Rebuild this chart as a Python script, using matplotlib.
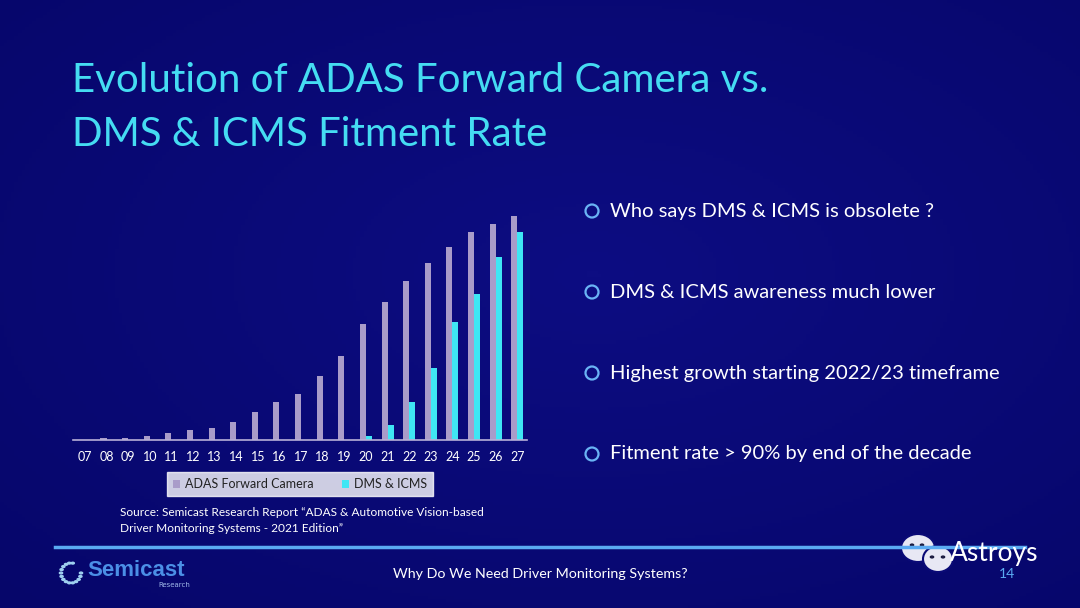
import matplotlib
matplotlib.use("Agg")
import matplotlib.pyplot as plt
import numpy as np
from matplotlib.patches import Circle, Ellipse
from matplotlib.colors import LinearSegmentedColormap

years = ["07", "08", "09", "10", "11", "12", "13", "14", "15", "16", "17",
         "18", "19", "20", "21", "22", "23", "24", "25", "26", "27"]
adas = [0.0, 0.7, 0.7, 1.9, 3.1, 4.3, 5.4, 7.9, 12.4, 17.0, 20.4,
        28.5, 37.7, 51.6, 61.8, 71.1, 79.1, 86.0, 93.0, 96.4, 100.0]
dms = [0, 0, 0, 0, 0, 0, 0, 0, 0, 0, 0,
       0, 0, 1.9, 6.6, 17.0, 32.0, 52.6, 65.4, 81.5, 93.0]
series_names = ["ADAS Forward Camera", "DMS & ICMS"]
bullets = ["Who says DMS & ICMS is obsolete ?",
           "DMS & ICMS awareness much lower",
           "Highest growth starting 2022/23 timeframe",
           "Fitment rate > 90% by end of the decade"]

BG = "#0a0a76"
ADAS_C = "#a99cc9"
DMS_C = "#3fe6f4"
TITLE_C = "#45dcf2"
FONT = "Lato"

W, H = 1080, 608
fig = plt.figure(figsize=(W / 100, H / 100), dpi=100)
fig.patch.set_facecolor(BG)

# background gradient
bg = fig.add_axes([0, 0, 1, 1], zorder=-10)
yy, xx = np.mgrid[0:1:200j, 0:1:300j]
grad = 1 - 0.5 * np.sqrt((xx - 0.55) ** 2 + (yy - 0.45) ** 2)
cmap = LinearSegmentedColormap.from_list("bgc", ["#06066a", "#0d0d82"])
bg.imshow(grad, cmap=cmap, aspect="auto", extent=[0, 1, 0, 1])
bg.set_axis_off()

def fx(px):
    return px / W

def fy(py):
    return 1 - py / H

# title
fig.text(fx(72), fy(80), "Evolution of ADAS Forward Camera vs.", color=TITLE_C,
         fontsize=29, family=FONT, va="center", ha="left")
fig.text(fx(72), fy(134), "DMS & ICMS Fitment Rate", color=TITLE_C,
         fontsize=29, family=FONT, va="center", ha="left")

# chart
ax = fig.add_axes([fx(73), fy(440), fx(527) - fx(73), (440 - 216) / H])
ax.set_facecolor("none")
x = np.arange(len(years))
bw = 0.28
b1 = ax.bar(x - bw / 2, adas, width=bw, color=ADAS_C, label=series_names[0], zorder=2)
b2 = ax.bar(x + bw / 2, dms, width=bw, color=DMS_C, label=series_names[1], zorder=2)
ax.set_xlim(-0.55, 20.45)
ax.set_ylim(0, 100)
ax.set_xticks(x)
ax.set_xticklabels(years, color="white", fontsize=9, family=FONT)
ax.tick_params(axis="x", length=0, pad=8)
ax.set_yticks([])
for s in ["top", "right", "left"]:
    ax.spines[s].set_visible(False)
ax.spines["bottom"].set_color("#b8b0d8")
ax.spines["bottom"].set_linewidth(1.2)

leg = fig.legend(handles=[b1, b2], labels=series_names, loc="center",
                 bbox_to_anchor=(fx(300), fy(484)), ncol=2, frameon=True,
                 fancybox=False, handlelength=0.6, handleheight=0.6,
                 handletextpad=0.4, columnspacing=2.2, borderpad=0.45,
                 prop={"family": FONT, "size": 9})
leg.get_frame().set_facecolor("white")
leg.get_frame().set_edgecolor("white")
for t in leg.get_texts():
    t.set_color("#222222")

fig.text(fx(120), fy(513), "Source: Semicast Research Report \u201cADAS & Automotive Vision-based",
         color="white", fontsize=8.6, family=FONT, va="center")
fig.text(fx(120), fy(529), "Driver Monitoring Systems - 2021 Edition\u201d",
         color="white", fontsize=8.6, family=FONT, va="center")

# bullets
for i, b in enumerate(bullets):
    yb = 211 + i * 81
    fig.patches.append(Ellipse((fx(592), fy(yb)), 13 / W, 13 / H, transform=fig.transFigure,
                               facecolor="none", edgecolor="#6ab4f5", linewidth=1.6))
    fig.text(fx(610), fy(yb), b, color="white", fontsize=14.5, family=FONT, va="center", ha="left")

# footer line
fig.add_artist(plt.Line2D([fx(55), fx(1025)], [fy(547), fy(547)], color="#5aaaf2",
                          linewidth=2.5, transform=fig.transFigure))
fig.text(fx(540), fy(574), "Why Do We Need Driver Monitoring Systems?", color="white",
         fontsize=10.3, family=FONT, va="center", ha="center")
fig.text(fx(1007), fy(574), "14", color="#5aaaf2", fontsize=10, family=FONT,
         va="center", ha="center")

# Semicast logo
ang = np.linspace(0, 2 * np.pi, 18, endpoint=False)
for a in ang:
    if 0.3 < a < 1.1:
        continue
    fig.patches.append(Circle((fx(71 + 10 * np.cos(a)), fy(573 - 10 * np.sin(a))), 1.6 / W,
                              transform=fig.transFigure, color="#9fd0f0"))
fig.text(fx(87), fy(571), "Semicast", color="#4b8fe6", fontsize=16, family="Liberation Sans",
         fontweight="bold", va="center", ha="left")
fig.text(fx(190), fy(585), "Research", color="#9fb8e8", fontsize=5, family="DejaVu Sans",
         va="center", ha="right")

# watermark (chat bubbles)
for (cx, cy, rx, ry) in [(918, 548, 17, 14), (938, 559, 15, 13)]:
    fig.patches.append(Ellipse((fx(cx), fy(cy)), 2 * rx / W, 2 * ry / H, transform=fig.transFigure,
                               facecolor="#e8e8f4", edgecolor=BG, linewidth=1.5))
for (ex, ey) in [(912, 545), (922, 545), (932, 557), (943, 557)]:
    fig.patches.append(Circle((fx(ex), fy(ey)), 1.6 / W, transform=fig.transFigure, color="#1a1a40"))
fig.text(fx(950), fy(554), "Astroys", color="white", fontsize=19, family=FONT,
         va="center", ha="left")

fig.savefig("out.png", dpi=100, facecolor=fig.get_facecolor())
